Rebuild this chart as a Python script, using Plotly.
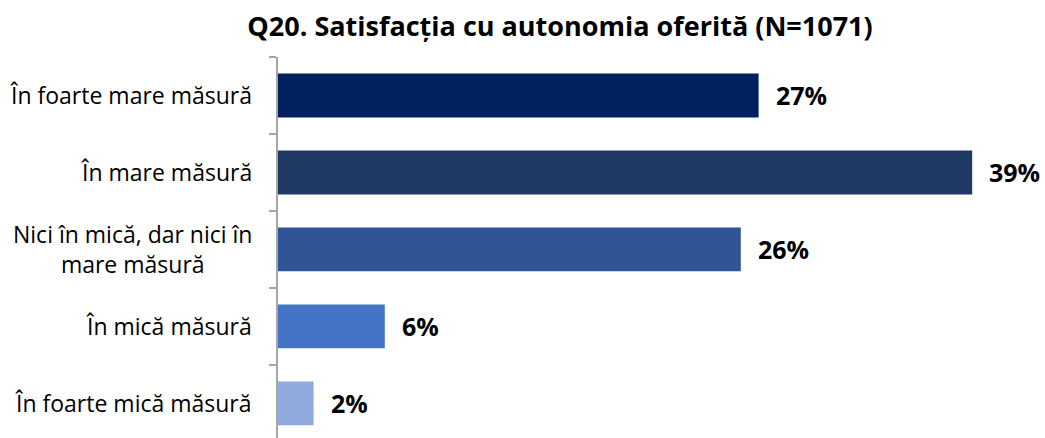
import plotly.graph_objects as go

# Survey question Q20: satisfaction with the autonomy offered
categories = [
    "În foarte mare măsură",
    "În mare măsură",
    "Nici în mică, dar nici în<br>mare măsură",
    "În mică măsură",
    "În foarte mică măsură",
]
values = [27, 39, 26, 6, 2]
value_labels = ["27%", "39%", "26%", "6%", "2%"]
bar_colors = ["#002060", "#203864", "#2F5597", "#4472C4", "#8FAADC"]
title_text = "Q20. Satisfacția cu autonomia oferită (N=1071)"

FONT = "Open Sans"

fig = go.Figure(
    go.Bar(
        x=values,
        y=categories,
        orientation="h",
        marker=dict(color=bar_colors, line=dict(width=0)),
        width=0.57,
        hoverinfo="skip",
    )
)

# Value labels beside each bar
for cat, val, lab in zip(categories, values, value_labels):
    fig.add_annotation(
        x=val, y=cat, xref="x", yref="y",
        text=f"<b>{lab}</b>", showarrow=False,
        xanchor="left", yanchor="middle", xshift=15, yshift=0,
        font=dict(family=FONT, size=25, color="#000000"),
    )

# Category labels, centred line by line like the original layout
for cat in categories:
    fig.add_annotation(
        x=0, y=cat, xref="paper", yref="y",
        text=cat, showarrow=False,
        xanchor="right", yanchor="middle", xshift=-24, align="center",
        font=dict(family=FONT, size=23, color="#000000"),
    )

fig.update_layout(
    width=1045, height=438,
    margin=dict(l=278, r=10, t=57, b=0),
    paper_bgcolor="white", plot_bgcolor="white",
    showlegend=False,
    title=dict(
        text=f"<b>{title_text}</b>",
        x=560 / 1045, xanchor="center", xref="container",
        y=1 - 27 / 438, yanchor="middle", yref="container",
        font=dict(family=FONT, size=27, color="#000000"),
    ),
    xaxis=dict(
        range=[0, 757 / 17.8], visible=False, fixedrange=True,
    ),
    yaxis=dict(
        type="category",
        range=[4.45, -0.5],
        showticklabels=False,
        showline=True, linecolor="#A6A6A6", linewidth=1.5,
        ticks="outside", tickson="boundaries", ticklen=7,
        tickcolor="#A6A6A6", tickwidth=1.5,
        showgrid=False, zeroline=False, fixedrange=True,
    ),
)

fig.write_html("out.html")
